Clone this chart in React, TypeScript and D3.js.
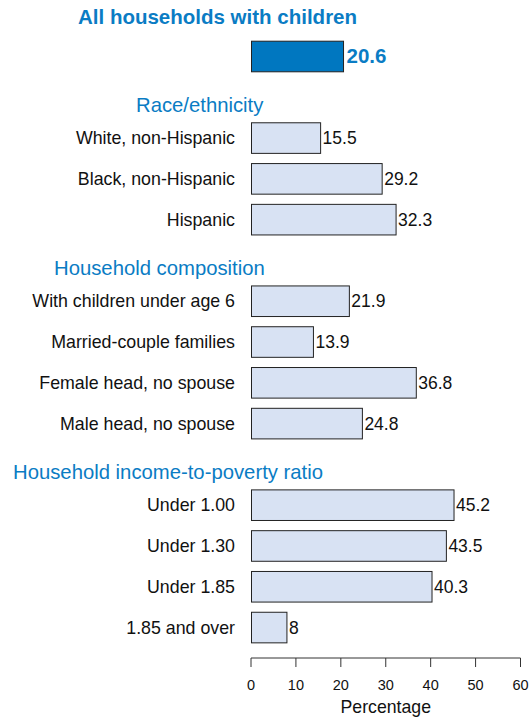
import React from "react";
import * as d3 from "d3";

const W = 531;
const H = 717;

type Row = { kind: "total" | "header" | "item"; label: string; value?: number };

const totalLabel = "All households with children";
const totalValue = 20.6;

const raceHeader = "Race/ethnicity";
const raceCats = ["White, non-Hispanic", "Black, non-Hispanic", "Hispanic"];
const raceVals = [15.5, 29.2, 32.3];

const compHeader = "Household composition";
const compCats = ["With children under age 6", "Married-couple families", "Female head, no spouse", "Male head, no spouse"];
const compVals = [21.9, 13.9, 36.8, 24.8];

const incHeader = "Household income-to-poverty ratio";
const incCats = ["Under 1.00", "Under 1.30", "Under 1.85", "1.85 and over"];
const incVals = [45.2, 43.5, 40.3, 8];

const xTicks = [0, 10, 20, 30, 40, 50, 60];
const xTitle = "Percentage";

const headerX: Record<string, number> = {
  [raceHeader]: 136,
  [compHeader]: 54,
  [incHeader]: 13,
};

const rows: Row[] = [
  { kind: "total", label: totalLabel, value: totalValue },
  { kind: "header", label: raceHeader },
  ...raceCats.map((c, i) => ({ kind: "item" as const, label: c, value: raceVals[i] })),
  { kind: "header", label: compHeader },
  ...compCats.map((c, i) => ({ kind: "item" as const, label: c, value: compVals[i] })),
  { kind: "header", label: incHeader },
  ...incCats.map((c, i) => ({ kind: "item" as const, label: c, value: incVals[i] })),
];

const BLUE = "#0a7cc4";
const DARK = "#0077c0";
const LIGHT = "#d8e2f3";
const FONT = "'Liberation Sans', Arial, Helvetica, sans-serif";

export default function App() {
  const x = d3.scaleLinear().domain([0, 60]).range([251, 520.5]);
  const y = d3
    .scaleBand<number>()
    .domain(rows.map((_, i) => i))
    .range([41.2, 642.85])
    .paddingInner(0.25)
    .paddingOuter(0);
  const bw = y.bandwidth();
  const axisY = 658;

  return (
    <svg width={W} height={H} style={{ position: "absolute", left: 0, top: 0, fontFamily: FONT }}>
      <rect width={W} height={H} fill="#fff" />
      <text x={78} y={24} fontSize={20.5} fontWeight="bold" fill={BLUE}>
        {totalLabel}
      </text>
      {rows.map((r, i) => {
        const y0 = y(i)!;
        const cy = y0 + bw / 2;
        if (r.kind === "header") {
          return (
            <text key={i} x={headerX[r.label]} y={cy + 14.5} fontSize={20.3} fill={BLUE}>
              {r.label}
            </text>
          );
        }
        const v = r.value!;
        const isTotal = r.kind === "total";
        return (
          <g key={i}>
            {!isTotal && (
              <text x={235} y={cy + 6} fontSize={17.8} textAnchor="end" fill="#111">
                {r.label}
              </text>
            )}
            <rect
              x={x(0) + 0.5}
              y={y0}
              width={x(v) - x(0) - 0.5}
              height={bw}
              fill={isTotal ? DARK : LIGHT}
              stroke="#222"
              strokeWidth={1}
            />
            <text
              x={x(v) + (isTotal ? 3 : 2)}
              y={cy + (isTotal ? 7 : 6)}
              fontSize={isTotal ? 20.5 : 17.5}
              fontWeight={isTotal ? "bold" : "normal"}
              fill={isTotal ? BLUE : "#111"}
            >
              {v}
            </text>
          </g>
        );
      })}
      <g>
        <line x1={x(0)} x2={x(60)} y1={axisY} y2={axisY} stroke="#333" strokeWidth={1} />
        {xTicks.map((t) => (
          <g key={t}>
            <line x1={x(t)} x2={x(t)} y1={axisY} y2={axisY + 9} stroke="#333" strokeWidth={1} />
            <text x={x(t)} y={690} fontSize={14.5} textAnchor="middle" fill="#111">
              {t}
            </text>
          </g>
        ))}
        <text x={x(30)} y={713} fontSize={17.7} textAnchor="middle" fill="#111">
          {xTitle}
        </text>
      </g>
    </svg>
  );
}
